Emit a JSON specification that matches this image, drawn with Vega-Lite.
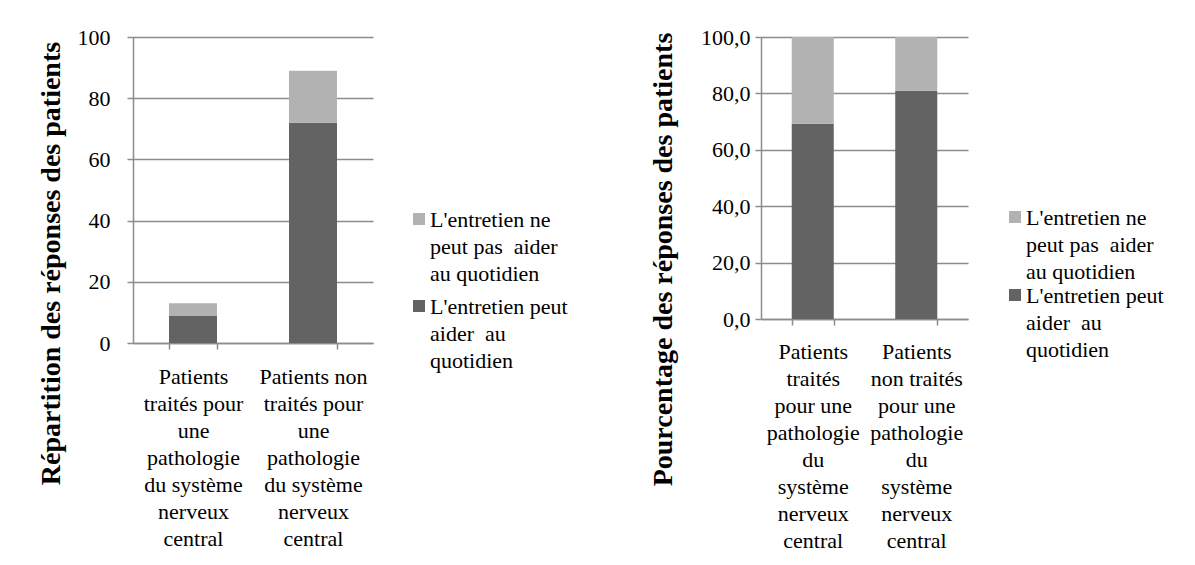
{
  "$schema": "https://vega.github.io/schema/vega-lite/v6.json",
  "padding": {"left": 36, "top": 26, "right": 5, "bottom": 5},
  "datasets": {
    "gauche": [
      {"groupe": "Patients traités pour une pathologie du système nerveux central", "reponse": "L'entretien peut aider au quotidien", "n": 9},
      {"groupe": "Patients traités pour une pathologie du système nerveux central", "reponse": "L'entretien ne peut pas aider au quotidien", "n": 4},
      {"groupe": "Patients non traités pour une pathologie du système nerveux central", "reponse": "L'entretien peut aider au quotidien", "n": 72},
      {"groupe": "Patients non traités pour une pathologie du système nerveux central", "reponse": "L'entretien ne peut pas aider au quotidien", "n": 17}
    ],
    "droite": [
      {"groupe": "Patients traités pour une pathologie du système nerveux central", "reponse": "L'entretien peut aider au quotidien", "pct": 69.2},
      {"groupe": "Patients traités pour une pathologie du système nerveux central", "reponse": "L'entretien ne peut pas aider au quotidien", "pct": 30.8},
      {"groupe": "Patients non traités pour une pathologie du système nerveux central", "reponse": "L'entretien peut aider au quotidien", "pct": 80.9},
      {"groupe": "Patients non traités pour une pathologie du système nerveux central", "reponse": "L'entretien ne peut pas aider au quotidien", "pct": 19.1}
    ]
  },
  "config": {
    "font": "Liberation Serif",
    "view": {"stroke": null},
    "axis": {
      "labelFont": "Liberation Serif", "labelFontSize": 22, "labelColor": "#000000",
      "titleFont": "Liberation Serif", "titleFontSize": 28, "titleFontWeight": "bold", "titleColor": "#000000",
      "domainColor": "#8c8c8c", "tickColor": "#8c8c8c", "gridColor": "#8c8c8c",
      "domainWidth": 1.5, "tickWidth": 1.5, "gridWidth": 1.5, "tickSize": 6
    },
    "legend": {
      "labelFont": "Liberation Serif", "labelFontSize": 22, "labelColor": "#000000",
      "symbolType": "square", "symbolSize": 144, "symbolStrokeWidth": 0,
      "labelLimit": 300, "padding": 0
    },
    "style": {"guide-label": {"font": "Liberation Serif", "fontSize": 22, "fill": "#000000", "lineHeight": 27}}
  },
  "resolve": {"legend": {"color": "independent"}, "scale": {"color": "independent"}},
  "spacing": 80,
  "hconcat": [
    {
      "width": 240,
      "height": 306,
      "data": {"name": "gauche"},
      "mark": {"type": "bar"},
      "encoding": {
        "x": {
          "field": "groupe", "type": "nominal", "sort": null,
          "scale": {"paddingInner": 0.6, "paddingOuter": 0.3},
          "axis": {
            "title": null, "labelAngle": 0, "labelAlign": "center", "labelBaseline": "top",
            "labelPadding": 17, "tickBand": "extent", "labelLineHeight": 27, "grid": false,
            "labelExpr": "datum.value == 'Patients non traités pour une pathologie du système nerveux central' ? ['Patients non', 'traités pour', 'une', 'pathologie', 'du système', 'nerveux', 'central'] : datum.value == 'Patients traités pour une pathologie du système nerveux central' ? ['Patients', 'traités pour', 'une', 'pathologie', 'du système', 'nerveux', 'central'] : ''"
          }
        },
        "y": {
          "field": "n", "type": "quantitative", "stack": "zero",
          "scale": {"domain": [0, 100], "nice": false},
          "axis": {
            "title": "Répartition des réponses des patients",
            "values": [0, 20, 40, 60, 80, 100], "labelPadding": 17, "grid": true,
            "titleX": -68, "titleY": 226
          }
        },
        "color": {
          "field": "reponse", "type": "nominal",
          "scale": {"domain": ["L'entretien ne peut pas aider au quotidien", "L'entretien peut aider au quotidien"], "range": ["#b2b2b2", "#636363"]},
          "legend": {
            "title": null, "orient": "none", "legendX": 275, "legendY": 171,
            "labelBaseline": "top", "rowPadding": 10, "labelOffset": 0,
            "encoding": {"labels": {"dy": {"value": -9}}},
            "labelExpr": "datum.label == \"L'entretien ne peut pas aider au quotidien\" ? [\"L'entretien ne\", \"peut pas \u00a0aider\", \"au quotidien\"] : [\"L'entretien peut\", \"aider \u00a0au\", \"quotidien\"]"
          }
        },
        "order": {"field": "reponse", "sort": "descending"}
      }
    },
    {
      "width": 207,
      "height": 282,
      "data": {"name": "droite"},
      "mark": {"type": "bar"},
      "encoding": {
        "x": {
          "field": "groupe", "type": "nominal", "sort": null,
          "scale": {"paddingInner": 0.594, "paddingOuter": 0.297},
          "axis": {
            "title": null, "labelAngle": 0, "labelAlign": "center", "labelBaseline": "top",
            "labelPadding": 16, "tickBand": "extent", "labelLineHeight": 27, "grid": false,
            "labelExpr": "datum.value == 'Patients non traités pour une pathologie du système nerveux central' ? ['Patients', 'non traités', 'pour une', 'pathologie', 'du', 'système', 'nerveux', 'central'] : datum.value == 'Patients traités pour une pathologie du système nerveux central' ? ['Patients', 'traités', 'pour une', 'pathologie', 'du', 'système', 'nerveux', 'central'] : ''"
          }
        },
        "y": {
          "field": "pct", "type": "quantitative", "stack": "zero",
          "scale": {"domain": [0, 100], "nice": false},
          "axis": {
            "title": "Pourcentage des réponses des patients",
            "values": [0, 20, 40, 60, 80, 100], "labelPadding": 5, "grid": true,
            "labelExpr": "replace(format(datum.value, '.1f'), '.', ',')",
            "titleX": -84, "titleY": 222
          }
        },
        "color": {
          "field": "reponse", "type": "nominal",
          "scale": {"domain": ["L'entretien ne peut pas aider au quotidien", "L'entretien peut aider au quotidien"], "range": ["#b2b2b2", "#636363"]},
          "legend": {
            "title": null, "orient": "none", "legendX": 243, "legendY": 169,
            "labelBaseline": "top", "rowPadding": 1, "labelOffset": 0,
            "encoding": {"labels": {"dy": {"value": -9}}},
            "labelExpr": "datum.label == \"L'entretien ne peut pas aider au quotidien\" ? [\"L'entretien ne\", \"peut pas \u00a0aider\", \"au quotidien\"] : [\"L'entretien peut\", \"aider \u00a0au\", \"quotidien\"]"
          }
        },
        "order": {"field": "reponse", "sort": "descending"}
      }
    }
  ]
}
